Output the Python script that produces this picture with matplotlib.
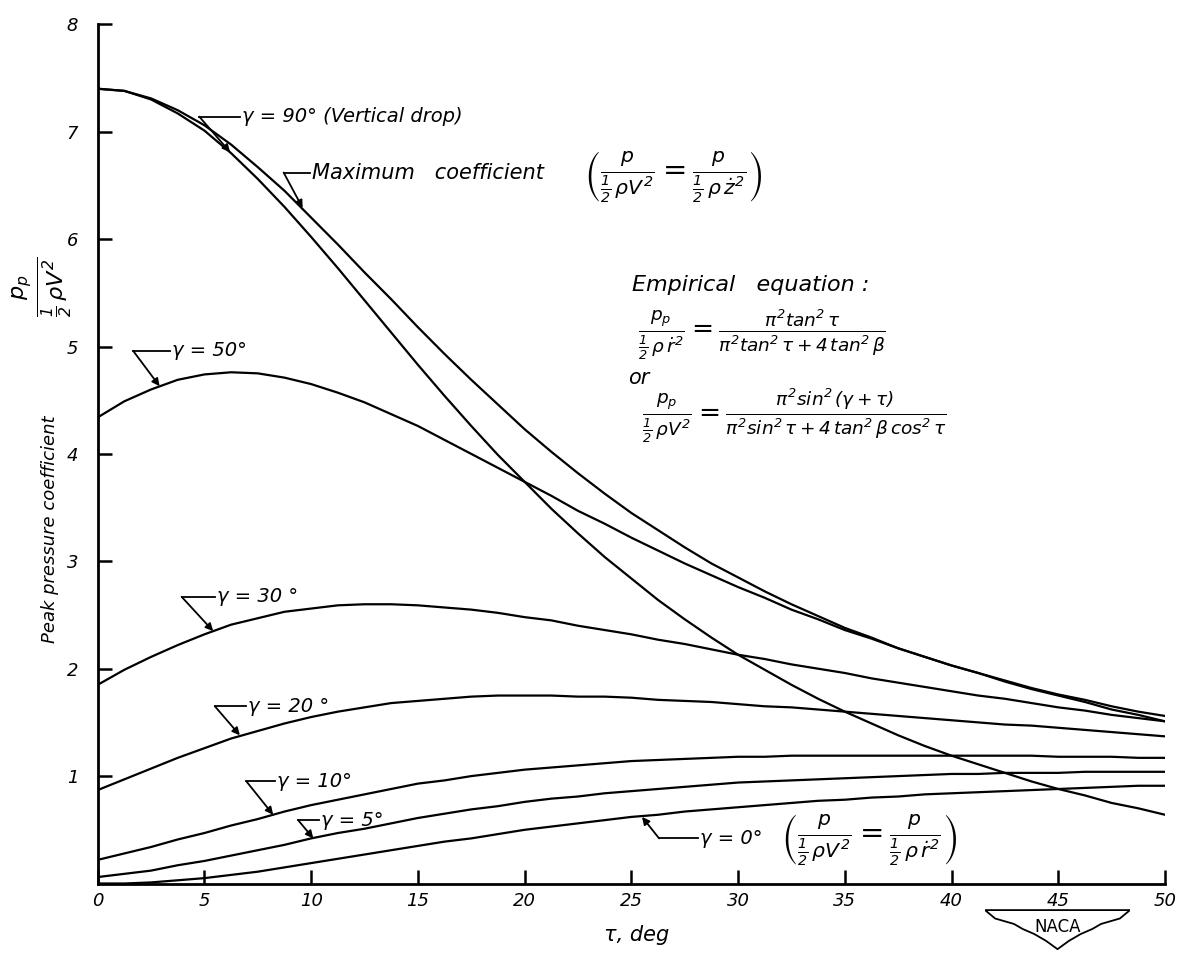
import matplotlib
matplotlib.use("Agg")
import matplotlib.pyplot as plt
from matplotlib.patches import Polygon

# ================================
# Data (trim angle tau, deg -> p_p / (1/2 rho V^2))
# ================================
tau = [0, 1.25, 2.5, 3.75, 5, 6.25, 7.5, 8.75, 10, 11.25, 12.5, 13.75,
       15, 16.25, 17.5, 18.75, 20, 21.25, 22.5, 23.75, 25, 26.25, 27.5,
       28.75, 30, 31.25, 32.5, 33.75, 35, 36.25, 37.5, 38.75, 40, 41.25,
       42.5, 43.75, 45, 46.25, 47.5, 48.75, 50]

# maximum coefficient (envelope)
cp_max = [7.40, 7.38, 7.31, 7.20, 7.06, 6.88, 6.67, 6.45, 6.20, 5.95, 5.69,
          5.44, 5.18, 4.93, 4.69, 4.46, 4.23, 4.02, 3.82, 3.63, 3.45, 3.29,
          3.13, 2.98, 2.85, 2.72, 2.60, 2.49, 2.38, 2.29, 2.19, 2.11, 2.03,
          1.96, 1.89, 1.82, 1.76, 1.71, 1.65, 1.60, 1.56]
# gamma = 90 deg (vertical drop)
cp_g90 = [7.40, 7.38, 7.30, 7.17, 7.01, 6.80, 6.56, 6.30, 6.02, 5.73, 5.43,
          5.13, 4.83, 4.54, 4.26, 3.99, 3.74, 3.49, 3.26, 3.04, 2.84, 2.64,
          2.46, 2.29, 2.13, 1.99, 1.85, 1.72, 1.60, 1.49, 1.38, 1.28, 1.19,
          1.11, 1.03, 0.95, 0.88, 0.82, 0.75, 0.70, 0.64]
cp_g50 = [4.34, 4.49, 4.60, 4.69, 4.74, 4.76, 4.75, 4.71, 4.65, 4.57, 4.48,
          4.37, 4.26, 4.13, 4.00, 3.87, 3.74, 3.61, 3.47, 3.35, 3.22, 3.10,
          2.98, 2.87, 2.76, 2.66, 2.55, 2.46, 2.36, 2.28, 2.19, 2.11, 2.03,
          1.96, 1.88, 1.81, 1.75, 1.69, 1.62, 1.57, 1.51]
cp_g30 = [1.85, 1.99, 2.11, 2.22, 2.32, 2.41, 2.47, 2.53, 2.56, 2.59, 2.60,
          2.60, 2.59, 2.57, 2.55, 2.52, 2.48, 2.45, 2.40, 2.36, 2.32, 2.27,
          2.23, 2.18, 2.13, 2.09, 2.04, 2.00, 1.96, 1.91, 1.87, 1.83, 1.79,
          1.75, 1.72, 1.68, 1.64, 1.61, 1.57, 1.54, 1.51]
cp_g20 = [0.87, 0.97, 1.07, 1.17, 1.26, 1.35, 1.42, 1.49, 1.55, 1.60, 1.64,
          1.68, 1.70, 1.72, 1.74, 1.75, 1.75, 1.75, 1.74, 1.74, 1.73, 1.71,
          1.70, 1.69, 1.67, 1.65, 1.64, 1.62, 1.60, 1.58, 1.56, 1.54, 1.52,
          1.50, 1.48, 1.47, 1.45, 1.43, 1.41, 1.39, 1.37]
cp_g10 = [0.22, 0.28, 0.34, 0.41, 0.47, 0.54, 0.60, 0.67, 0.73, 0.78, 0.83,
          0.88, 0.93, 0.96, 1.00, 1.03, 1.06, 1.08, 1.10, 1.12, 1.14, 1.15,
          1.16, 1.17, 1.18, 1.18, 1.19, 1.19, 1.19, 1.19, 1.19, 1.19, 1.19,
          1.19, 1.19, 1.19, 1.18, 1.18, 1.18, 1.17, 1.17]
cp_g5 = [0.06, 0.09, 0.12, 0.17, 0.21, 0.26, 0.31, 0.36, 0.42, 0.47, 0.51,
         0.56, 0.61, 0.65, 0.69, 0.72, 0.76, 0.79, 0.81, 0.84, 0.86, 0.88,
         0.90, 0.92, 0.94, 0.95, 0.96, 0.97, 0.98, 0.99, 1.00, 1.01, 1.02,
         1.02, 1.03, 1.03, 1.03, 1.04, 1.04, 1.04, 1.04]
cp_g0 = [0.00, 0.00, 0.01, 0.03, 0.05, 0.08, 0.11, 0.15, 0.19, 0.23, 0.27,
         0.31, 0.35, 0.39, 0.42, 0.46, 0.50, 0.53, 0.56, 0.59, 0.62, 0.64,
         0.67, 0.69, 0.71, 0.73, 0.75, 0.77, 0.78, 0.80, 0.81, 0.83, 0.84,
         0.85, 0.86, 0.87, 0.88, 0.89, 0.90, 0.91, 0.91]

x_ticks = [0, 5, 10, 15, 20, 25, 30, 35, 40, 45, 50]
y_ticks = [1, 2, 3, 4, 5, 6, 7, 8]

# ================================
# Style
# ================================
plt.rcParams["font.family"] = ["DejaVu Sans"]
plt.rcParams["font.style"] = "italic"
plt.rcParams["mathtext.fontset"] = "dejavusans"

W, H = 1184, 959
fig = plt.figure(figsize=(W / 100, H / 100), dpi=100)
fig.patch.set_facecolor("white")

x0, x1 = 97.7, 1165.0
y0, y1 = 883.5, 24.3
ax = fig.add_axes([x0 / W, 1 - y0 / H, (x1 - x0) / W, (y0 - y1) / H])

# ----------------------------
# curves
# ----------------------------
for series in [cp_max, cp_g90, cp_g50, cp_g30, cp_g20, cp_g10, cp_g5, cp_g0]:
    ax.plot(tau, series, color="black", lw=1.6, solid_joinstyle="round")

ax.set_xlim(0, 50)
ax.set_ylim(0, 8)

for s in ["top", "right"]:
    ax.spines[s].set_visible(False)
for s in ["left", "bottom"]:
    ax.spines[s].set_linewidth(2.0)

ax.set_xticks(x_ticks)
ax.set_xticklabels([str(v) for v in x_ticks], fontsize=13, style="italic")
ax.set_yticks(y_ticks)
ax.set_yticklabels([str(v) for v in y_ticks], fontsize=13, style="italic")
ax.tick_params(direction="in", length=10, width=1.8, pad=6)
ax.tick_params(axis="y", pad=14)


# ----------------------------
# flag style labels: text, horizontal leader, arrow to curve
# ----------------------------
def flag(text, tip, corner, text_x, size=14):
    cx, cy = corner
    ax.plot([cx, text_x - 0.1], [cy, cy], color="black", lw=1.3)
    ax.annotate("", xy=tip, xytext=corner,
                arrowprops=dict(arrowstyle="-|>", color="black", lw=1.3,
                                mutation_scale=11, shrinkA=0, shrinkB=0))
    ax.text(text_x, cy, text, fontsize=size, style="italic",
            ha="left", va="center")


flag("γ = 90° (Vertical drop)", (6.2, 6.81), (4.76, 7.14), 6.75)
flag("Maximum   coefficient", (9.6, 6.29), (8.71, 6.62), 10.05, size=15)
ax.text(22.8, 6.58,
        r"$\left(\frac{p}{\frac{1}{2}\,\rho V^2} = \frac{p}{\frac{1}{2}\,\rho\,\dot{z}^2}\right)$",
        fontsize=21, ha="left", va="center")

flag("γ = 50°", (2.9, 4.63), (1.66, 4.96), 3.5)
flag("γ = 30 °", (5.41, 2.35), (3.93, 2.67), 5.6)
flag("γ = 20 °", (6.66, 1.38), (5.49, 1.65), 7.05)
flag("γ = 10°", (8.22, 0.64), (6.97, 0.95), 8.4)
flag("γ = 5°", (10.1, 0.42), (9.39, 0.59), 10.47)
flag("γ = 0°", (25.5, 0.62), (26.3, 0.42), 28.2)
ax.text(32.0, 0.40,
        r"$\left(\frac{p}{\frac{1}{2}\,\rho V^2} = \frac{p}{\frac{1}{2}\,\rho\,\dot{r}^2}\right)$",
        fontsize=21, ha="left", va="center")

# ----------------------------
# empirical equation block
# ----------------------------
ax.text(25.05, 5.57, "Empirical   equation :", fontsize=16, style="italic",
        ha="left", va="center")
ax.text(25.3, 5.11,
        r"$\frac{p_p}{\frac{1}{2}\,\rho\,\dot{r}^2} = "
        r"\frac{\pi^2 \tan^2\tau}{\pi^2 \tan^2\tau + 4\,\tan^2\beta}$",
        fontsize=19, ha="left", va="center")
ax.text(24.85, 4.71, "or", fontsize=15, style="italic", ha="left", va="center")
ax.text(25.5, 4.36,
        r"$\frac{p_p}{\frac{1}{2}\,\rho V^2} = "
        r"\frac{\pi^2 \sin^2(\gamma+\tau)}{\pi^2 \sin^2\tau + 4\,\tan^2\beta\,\cos^2\tau}$",
        fontsize=19, ha="left", va="center")

# ----------------------------
# axis titles
# ----------------------------
fig.text(50 / W, 1 - 529 / H, "Peak pressure coefficient", rotation=90,
         fontsize=13, style="italic", ha="center", va="center")
fig.text(42 / W, 1 - 287 / H, r"$\frac{p_p}{\frac{1}{2}\,\rho V^2}$",
         rotation=90, fontsize=23, ha="center", va="center")
fig.text(637 / W, 1 - 935 / H, "τ, deg", fontsize=15, style="italic",
         ha="center", va="center")

# ----------------------------
# NACA badge
# ----------------------------
lx = fig.add_axes([985 / W, 1 - 950 / H, 145 / W, 42 / H])
lx.set_axis_off()
lx.set_xlim(0, 1)
lx.set_ylim(0, 1)
badge = [(0.0, 0.95), (1.0, 0.95), (0.93, 0.75), (0.80, 0.62), (0.74, 0.50),
         (0.66, 0.38), (0.58, 0.22), (0.50, 0.02), (0.42, 0.22), (0.34, 0.38),
         (0.26, 0.50), (0.20, 0.62), (0.07, 0.75)]
lx.add_patch(Polygon(badge, closed=True, fill=False, edgecolor="black", lw=1.3))
lx.text(0.5, 0.55, "NACA", fontsize=12, style="normal", ha="center",
        va="center")

fig.savefig("out.png", dpi=100, facecolor="white")
